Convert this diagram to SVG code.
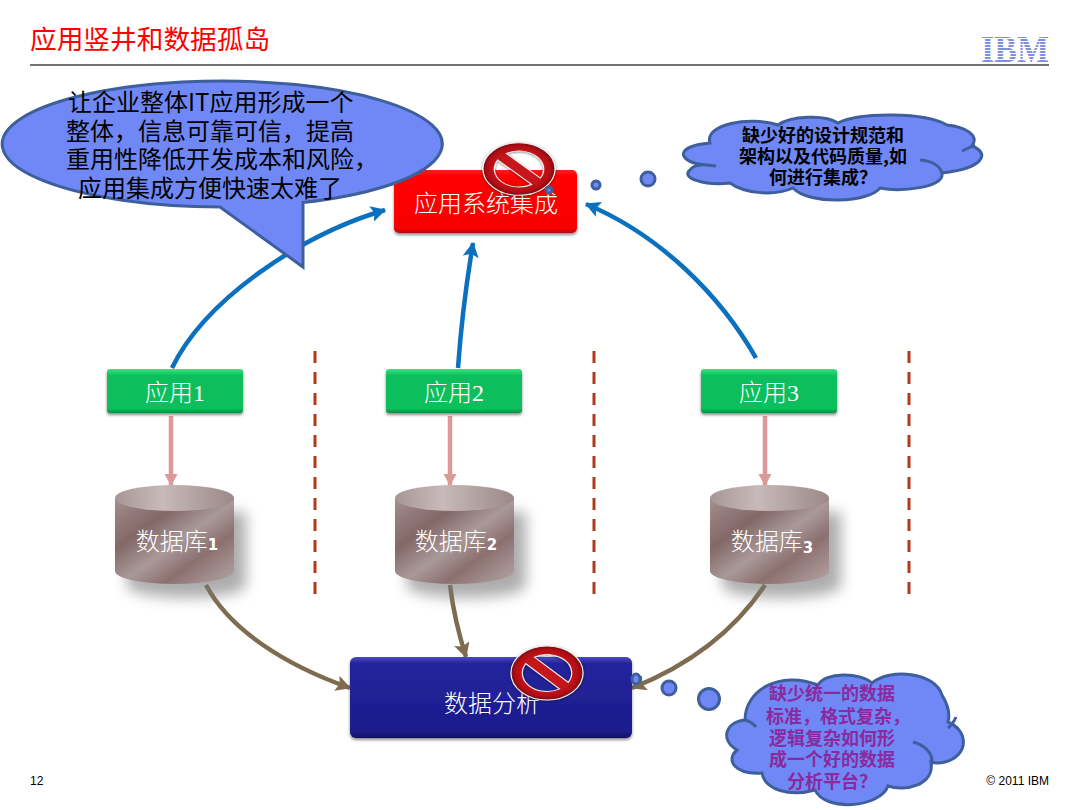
<svg xmlns="http://www.w3.org/2000/svg" width="1080" height="810" viewBox="0 0 1080 810">
<style>
text{font-family:"Noto Sans CJK SC","Liberation Sans",sans-serif}
.lbl{font-size:24px;fill:#fff;text-anchor:middle;font-weight:300}
.ser{font-family:"Liberation Serif",serif}
.old{font-family:"DejaVu Sans",sans-serif;font-size:15px;font-weight:700}
.shape{fill:#6f88f5;stroke:#3e5f9c;stroke-width:3}
.inner{fill:none;stroke:#3e5f9c;stroke-width:3}
.c1{font-size:18px;font-weight:700;fill:#000;text-anchor:middle}
.c2{font-size:18px;font-weight:700;fill:#8a2a9e;text-anchor:middle}
.b{font-size:24px;fill:#000}
.blue{fill:none;stroke:#0b70bd;stroke-width:4.500;marker-end:url(#ab)}
.pink{fill:none;stroke:#dc9999;stroke-width:4.500;marker-end:url(#ap)}
.brown{fill:none;stroke:#7e6c50;stroke-width:4.500;marker-end:url(#ak)}
.dash{stroke:#b23a1c;stroke-width:3;stroke-dasharray:12 9}
</style>
<defs>
<marker id="ab" markerUnits="userSpaceOnUse" markerWidth="18" markerHeight="16" refX="14" refY="8" orient="auto"><path d="M0 0L15 8L0 16L3 8z" fill="#0b70bd"/></marker>
<marker id="ap" markerUnits="userSpaceOnUse" markerWidth="14" markerHeight="14" refX="12" refY="6.500" orient="auto"><path d="M0 0L12 6.500L0 13z" fill="#dc9999"/></marker>
<marker id="ak" markerUnits="userSpaceOnUse" markerWidth="18" markerHeight="16" refX="14" refY="8" orient="auto"><path d="M0 0L15 8L0 16L3 8z" fill="#7e6c50"/></marker>
<linearGradient id="gr" x1="0" y1="0" x2="0" y2="1"><stop offset="0" stop-color="#f52020"/><stop offset=".1" stop-color="#ff0000"/><stop offset=".93" stop-color="#f80000"/><stop offset="1" stop-color="#a81010"/></linearGradient>
<linearGradient id="gg" x1="0" y1="0" x2="0" y2="1"><stop offset="0" stop-color="#3fe07f"/><stop offset=".15" stop-color="#0abf5c"/><stop offset=".9" stop-color="#0abf5c"/><stop offset="1" stop-color="#078a43"/></linearGradient>
<linearGradient id="gb" x1="0" y1="0" x2="0" y2="1"><stop offset="0" stop-color="#4a4ac0"/><stop offset=".08" stop-color="#24249c"/><stop offset=".92" stop-color="#1c1c8c"/><stop offset="1" stop-color="#101060"/></linearGradient>
<linearGradient id="gc" x1="0" y1="0" x2="1" y2="1"><stop offset="0" stop-color="#a58f8f"/><stop offset=".3" stop-color="#836868"/><stop offset=".52" stop-color="#aa9999"/><stop offset=".7" stop-color="#8c7070"/><stop offset="1" stop-color="#b5a6a6"/></linearGradient>
<linearGradient id="gc2" x1="0" y1="0" x2="1" y2="0"><stop offset="0" stop-color="#a89696"/><stop offset=".4" stop-color="#c8baba"/><stop offset="1" stop-color="#9c8888"/></linearGradient>
<radialGradient id="gs"><stop offset=".6" stop-color="#c5141a"/><stop offset=".85" stop-color="#b81016"/><stop offset="1" stop-color="#7a0a0e"/></radialGradient>
<filter id="sd" x="-30%" y="-30%" width="170%" height="170%"><feGaussianBlur stdDeviation="7"/></filter>
<filter id="s2" x="-10%" y="-20%" width="120%" height="150%"><feDropShadow dx="0" dy="2" stdDeviation="1.500" flood-color="#000" flood-opacity=".45"/></filter>
<filter id="s3" x="-20%" y="-20%" width="140%" height="140%"><feDropShadow dx="0" dy="1" stdDeviation="1.500" flood-color="#000" flood-opacity=".5"/></filter>
<g id="stop"><path fill-rule="evenodd" d="M-35 0a35 35 0 1 0 70 0a35 35 0 1 0 -70 0zM-12.190 -20.670A24 24 0 0 1 20.670 12.190zM12.190 20.670A24 24 0 0 1 -20.670 -12.190z" fill="url(#gs)" stroke="#eee" stroke-width="1.200" filter="url(#s3)"/></g>
<g id="db"><path d="M12 27V100A59.500 13 0 0 0 131 100V27z" fill="#777" opacity=".6" filter="url(#sd)"/><path d="M0 13V86A59.500 13 0 0 0 119 86V13z" fill="url(#gc)"/><ellipse cx="59.500" cy="13" rx="59.500" ry="13" fill="url(#gc2)"/></g>
</defs>
<rect width="1080" height="810" fill="#fff"/>
<g id="header">
<text x="30" y="49" font-size="26.700" fill="#f00">应用竖井和数据孤岛</text>
<line x1="30" y1="65" x2="1049" y2="65" stroke="#444" stroke-width="1.500"/>
<g id="logo"><text x="981" y="62" font-size="38" font-weight="700" textLength="68" lengthAdjust="spacingAndGlyphs" fill="#7f8fe0" class="ser">IBM</text>
<path d="M980 38.500H1050M980 41.500H1050M980 44.500H1050M980 47.500H1050M980 50.500H1050M980 53.500H1050M980 56.500H1050M980 59.500H1050" stroke="#fff" stroke-width="1"/></g>
</g>
<g id="connectors">
<path class="blue" d="M172 368C205 300 300 235 385 210"/>
<path class="blue" d="M458 368C461 325 466 285 473 243"/>
<path class="blue" d="M756 358C720 295 660 235 586 204"/>
<path class="pink" d="M171 416V486"/>
<path class="pink" d="M450 416V486"/>
<path class="pink" d="M765 416V486"/>
<path class="brown" d="M206 585C230 630 285 665 350 688"/>
<path class="brown" d="M450 585C453 610 459 635 466 657"/>
<path class="brown" d="M765 585C735 630 690 665 632 688"/>
</g>
<g id="separators"><line class="dash" x1="315" y1="351" x2="315" y2="594"/><line class="dash" x1="594" y1="351" x2="594" y2="594"/><line class="dash" x1="909" y1="351" x2="909" y2="594"/></g>
<g id="node-integration"><rect x="394" y="170" width="183" height="63" rx="5" fill="url(#gr)" filter="url(#s2)"/><text class="lbl" x="486" y="212">应用系统集成</text></g>
<g id="node-app1"><rect x="107" y="369" width="136" height="44" rx="3" fill="url(#gg)" filter="url(#s2)"/><text class="lbl" x="175" y="401">应用<tspan class="ser">1</tspan></text></g>
<g id="node-app2"><rect x="386" y="369" width="136" height="44" rx="3" fill="url(#gg)" filter="url(#s2)"/><text class="lbl" x="454" y="401">应用<tspan class="ser">2</tspan></text></g>
<g id="node-app3"><rect x="701" y="369" width="136" height="44" rx="3" fill="url(#gg)" filter="url(#s2)"/><text class="lbl" x="769" y="401">应用<tspan class="ser">3</tspan></text></g>
<g id="node-db1"><use href="#db" x="115" y="485"/><text class="lbl" x="177" y="550">数据库<tspan class="old">1</tspan></text></g>
<g id="node-db2"><use href="#db" x="395" y="485"/><text class="lbl" x="456" y="550">数据库<tspan class="old">2</tspan></text></g>
<g id="node-db3"><use href="#db" x="710" y="485"/><text class="lbl" x="772" y="550">数据库<tspan class="old" dy="3">3</tspan></text></g>
<g id="node-analysis"><rect x="350" y="657" width="282" height="81" rx="6" fill="url(#gb)" filter="url(#s2)"/><text class="lbl" x="492" y="712">数据分析</text></g>
<g id="callout"><path class="shape" d="M220 207A220 63 0 1 1 303 202.600V267z"/>
<text class="b"><tspan x="68" y="111">让企业整体IT应用形成一个</tspan><tspan x="66" y="140">整体&#xFF0C;信息可靠可信&#xFF0C;提高</tspan><tspan x="66" y="168">重用性降低开发成本和风险&#xFF0C;</tspan><tspan x="78" y="197">应用集成方便快速太难了</tspan></text></g>
<g id="stop1"><use href="#stop" transform="translate(519 169) scale(1.030 .75)"/></g>
<g id="stop2"><use href="#stop" transform="translate(547 673) scale(1.030 .77)"/></g>
<g id="cloud1">
<circle class="shape" cx="549" cy="190" r="3"/><circle class="shape" cx="596" cy="185" r="4"/><circle class="shape" cx="648" cy="179" r="7"/>
<path class="shape" d="M702 165C676 160 676 146 710 143C704 124 750 116 778 125C790 116 825 114 838 123C860 112 925 112 947 125C965 127 980 135 972 146C990 153 985 168 942 173C945 188 900 192 880 188C870 202 810 206 793 188C775 196 745 194 730 183C705 186 680 178 690 170C692 167 697 165 702 165z"/>
<path class="inner" d="M697 164L716 166M962 151L975 145M920 160C932 161 940 166 942 173"/>
<text class="c1"><tspan x="823" y="142">缺少好的设计规范和</tspan><tspan x="823" y="163">架构以及代码质量,如</tspan><tspan x="823" y="184">何进行集成&#xFF1F;</tspan></text></g>
<g id="cloud2">
<ellipse class="shape" cx="636" cy="679" rx="4" ry="5"/><circle class="shape" cx="669" cy="688" r="7"/><circle class="shape" cx="709" cy="699" r="10.500"/>
<path class="shape" d="M745 720C745 690 780 670 818 685C825 672 860 672 872 683C890 668 935 672 942 695C948 705 950 715 948 722C968 730 970 755 945 762C938 764 934 763 931 762C935 785 905 792 888 786C880 808 825 812 815 790C790 797 765 790 762 773C735 775 725 760 737 750C720 740 725 722 745 720z"/>
<path class="inner" d="M745 720Q752 722 756 727M913 742C925 745 935 755 931 765M948 728Q953 724 956 717"/>
<text class="c2"><tspan x="832" y="700">缺少统一的数据</tspan><tspan x="838" y="723">标准&#xFF0C;格式复杂&#xFF0C;</tspan><tspan x="832" y="745">逻辑复杂如何形</tspan><tspan x="832" y="766">成一个好的数据</tspan><tspan x="832" y="788">分析平台&#xFF1F;</tspan></text></g>
<text x="30" y="785" font-size="12" fill="#000" style="font-family:'Liberation Sans',sans-serif">12</text>
<text x="1049" y="785" font-size="12" fill="#000" text-anchor="end" style="font-family:'Liberation Sans',sans-serif">© 2011 IBM</text>
</svg>
